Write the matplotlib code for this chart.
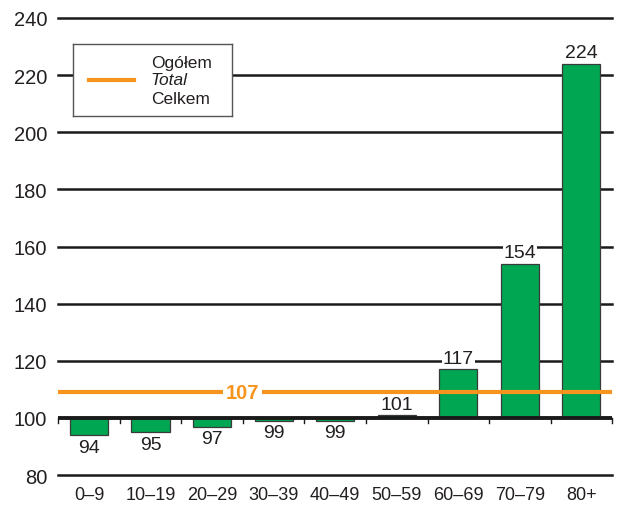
import matplotlib
matplotlib.use("Agg")
import matplotlib.pyplot as plt
import numpy as np

categories = ["0–9", "10–19", "20–29", "30–39", "40–49", "50–59", "60–69", "70–79", "80+"]
values = [94, 95, 97, 99, 99, 101, 117, 154, 224]
total_label = 107
total_line_level = 109  # where the reference draws the "total" line
y_ticks = [80, 100, 120, 140, 160, 180, 200, 220, 240]
legend_lines = ["Ogółem", "Total", "Celkem"]

plt.rcParams['font.family'] = ['Liberation Sans', 'DejaVu Sans']

GREEN = "#00A651"
ORANGE = "#F7941D"
TXT = "#231F20"

fig = plt.figure(figsize=(6.19, 5.06), dpi=100)
ax = fig.add_axes([0.094, 0.059, 0.895, 0.9035])
ax.set_xlim(0, len(categories))
ax.set_ylim(80, 240)

# gridlines
for t in y_ticks:
    if t == 100:
        continue
    ax.axhline(t, color="#1a1a1a", lw=1.8, zorder=1, clip_on=False)

x = np.arange(len(categories)) + 0.5
base = 100
heights = [v - base for v in values]
ax.bar(x, heights, bottom=base, width=0.62, color=GREEN, edgecolor="#3a3a3a",
       linewidth=0.9, zorder=3)

# baseline
ax.axhline(100, color="#1a1a1a", lw=2.8, zorder=5)
for b in range(len(categories) + 1):
    ax.plot([b, b], [100, 98.4], color="#1a1a1a", lw=1.0, zorder=5, clip_on=False)

# total line
ax.axhline(total_line_level, color=ORANGE, lw=3, zorder=4)
ax.text(3.0, total_line_level, str(total_label), color=ORANGE, fontsize=14.5,
        fontweight="bold", ha="center", va="center", zorder=6,
        bbox=dict(facecolor="white", edgecolor="none", pad=2))

# value labels
for xi, v in zip(x, values):
    if v < 100:
        ax.text(xi, v - 1.2, str(v), ha="center", va="top", fontsize=14,
                color=TXT, zorder=6)
    else:
        ax.text(xi, v + 0.8, str(v), ha="center", va="bottom", fontsize=14,
                color=TXT, zorder=6,
                bbox=dict(facecolor="white", edgecolor="none", pad=0.5))

# axes styling
for s in ax.spines.values():
    s.set_visible(False)
ax.set_yticks(y_ticks)
ax.set_yticklabels([str(t) for t in y_ticks], fontsize=14.5, color=TXT)
ax.tick_params(axis="y", length=0, pad=8)
ax.set_xticks(x)
ax.set_xticklabels(categories, fontsize=13, color=TXT)
ax.tick_params(axis="x", length=0, pad=8)

# legend box
lax = fig.add_axes([73/619, 1 - 117/506, (232-73)/619, (117-45)/506])
lax.set_xlim(0, 1); lax.set_ylim(0, 1)
lax.set_xticks([]); lax.set_yticks([])
for s in lax.spines.values():
    s.set_edgecolor("#555555"); s.set_linewidth(1.0)
lax.set_zorder(10)
lax.plot([0.1, 0.385], [0.5, 0.5], color=ORANGE, lw=3)
ys = [0.74, 0.5, 0.25]
for txt, yy, st in zip(legend_lines, ys, ["normal", "italic", "normal"]):
    lax.text(0.49, yy, txt, fontsize=12.5, style=st, va="center", ha="left", color=TXT)

fig.savefig("out.png", dpi=100)
